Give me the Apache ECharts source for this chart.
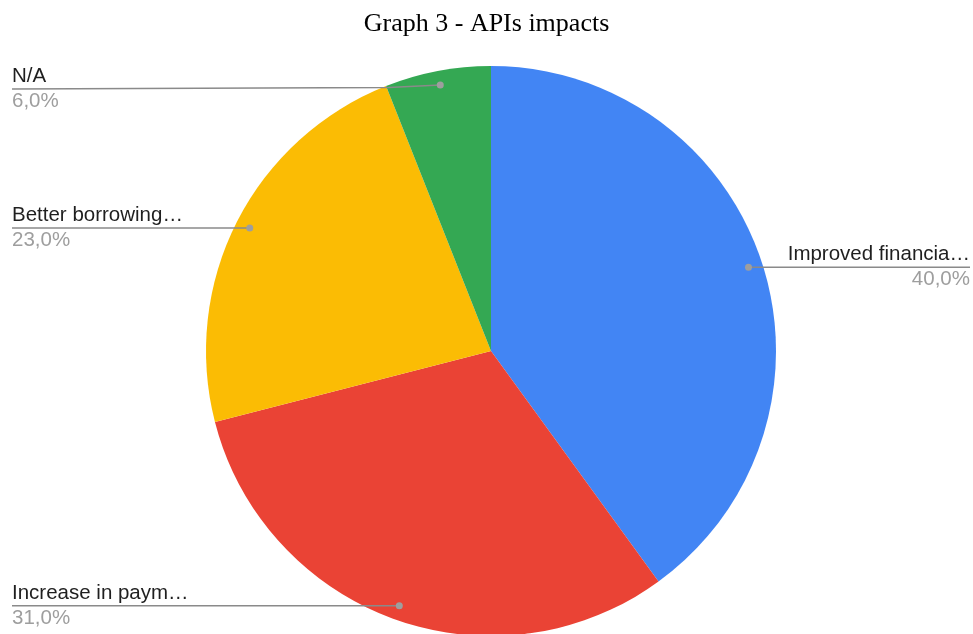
<!DOCTYPE html>
<html>
<head>
<meta charset="utf-8">
<script src="https://cdn.jsdelivr.net/npm/echarts@6/dist/echarts.min.js"></script>
<style>
  html, body { margin: 0; padding: 0; background: #ffffff; }
  #chart { width: 973px; height: 634px; }
</style>
</head>
<body>
<div id="chart"></div>
<script>
// Survey answers, clockwise from 12 o'clock
const categories = ['Improved financia\u2026', 'Increase in paym\u2026', 'Better borrowing\u2026', 'N/A'];
const shares = [40.0, 31.0, 23.0, 6.0];
const sliceColors = ['#4285f4', '#ea4335', '#fbbc04', '#34a853'];

const chartTitle = 'Graph 3 - APIs impacts';

const PIE_CENTER = [491, 351];
const PIE_RADIUS = 285;
const DOT_RATIO = 0.95;     // where the leader line starts, as a fraction of the radius
const LEFT_EDGE = 12;
const RIGHT_EDGE = 970;
const LABEL_DROP = [0, 0, 0, 4];   // small vertical shift of the outer end of each leader line
const LINE_COLOR = '#8a8a8a';

const chart = echarts.init(document.getElementById('chart'), null, { renderer: 'canvas' });

function formatPct(v) {
  return v.toFixed(1).replace('.', ',') + '%';
}

// Anchor point of each slice's leader line, taken from the laid-out sector
function anchorOf(idx) {
  const lay = chart.getModel().getSeriesByIndex(0).getData().getItemLayout(idx);
  const mid = (lay.startAngle + lay.endAngle) / 2;
  const rr = lay.r * DOT_RATIO;
  return [lay.cx + rr * Math.cos(mid), lay.cy + rr * Math.sin(mid)];
}

// Point where a horizontal line at height y leaves the pie on the given side
function rimAt(y, onRight) {
  const lay = chart.getModel().getSeriesByIndex(0).getData().getItemLayout(0);
  const dy = y - lay.cy;
  const dx = Math.sqrt(Math.max(0, lay.r * lay.r - dy * dy));
  return lay.cx + (onRight ? dx : -dx);
}

const option = {
  animation: false,
  backgroundColor: '#ffffff',
  title: {
    text: chartTitle,
    left: 'center',
    top: 6,
    textStyle: {
      fontFamily: '"Liberation Serif", "Times New Roman", serif',
      fontWeight: 'normal',
      fontSize: 26,
      color: '#000000'
    }
  },
  series: [{
    type: 'pie',
    center: PIE_CENTER,
    radius: PIE_RADIUS,
    startAngle: 90,
    clockwise: true,
    avoidLabelOverlap: false,
    itemStyle: { borderWidth: 0 },
    emphasis: { disabled: true },
    data: categories.map((name, i) => ({
      name: name,
      value: shares[i],
      itemStyle: { color: sliceColors[i] }
    })),
    label: {
      show: true,
      position: 'outside',
      formatter: p => '{n|' + categories[p.dataIndex] + '}\n{v|' + formatPct(shares[p.dataIndex]) + '}',
      rich: {
        n: {
          fontFamily: '"Liberation Sans", Arial, sans-serif',
          fontSize: 20.5,
          lineHeight: 25,
          color: '#1f1f1f'
        },
        v: {
          fontFamily: '"Liberation Sans", Arial, sans-serif',
          fontSize: 20.5,
          lineHeight: 25,
          color: '#9e9e9e'
        }
      }
    },
    labelLine: { show: false },
    labelLayout: function (params) {
      const i = params.dataIndex;
      const a = anchorOf(i);
      const onRight = a[0] > PIE_CENTER[0];
      return {
        x: onRight ? RIGHT_EDGE : LEFT_EDGE,
        y: a[1] + LABEL_DROP[i],
        align: onRight ? 'right' : 'left',
        verticalAlign: 'middle'
      };
    }
  }]
};

chart.setOption(option);

// Leader lines and dots, drawn above the slices
const overlay = [];
shares.forEach((_, i) => {
  const a = anchorOf(i);
  const onRight = a[0] > PIE_CENTER[0];
  const endX = onRight ? RIGHT_EDGE : LEFT_EDGE;
  const endY = a[1] + LABEL_DROP[i];
  const bendX = rimAt(a[1], onRight);
  const pts = LABEL_DROP[i]
    ? [[a[0], a[1]], [bendX, a[1] + LABEL_DROP[i] * 0.6], [endX, endY]]
    : [[a[0], a[1]], [endX, endY]];
  overlay.push({
    type: 'polyline',
    shape: { points: pts },
    style: { stroke: LINE_COLOR, lineWidth: 1.5, fill: null },
    z: 99
  });
  overlay.push({
    type: 'circle',
    shape: { cx: a[0], cy: a[1], r: 3.5 },
    style: { fill: '#9e9e9e' },
    z: 100
  });
});
chart.setOption({ graphic: overlay });
</script>
</body>
</html>
